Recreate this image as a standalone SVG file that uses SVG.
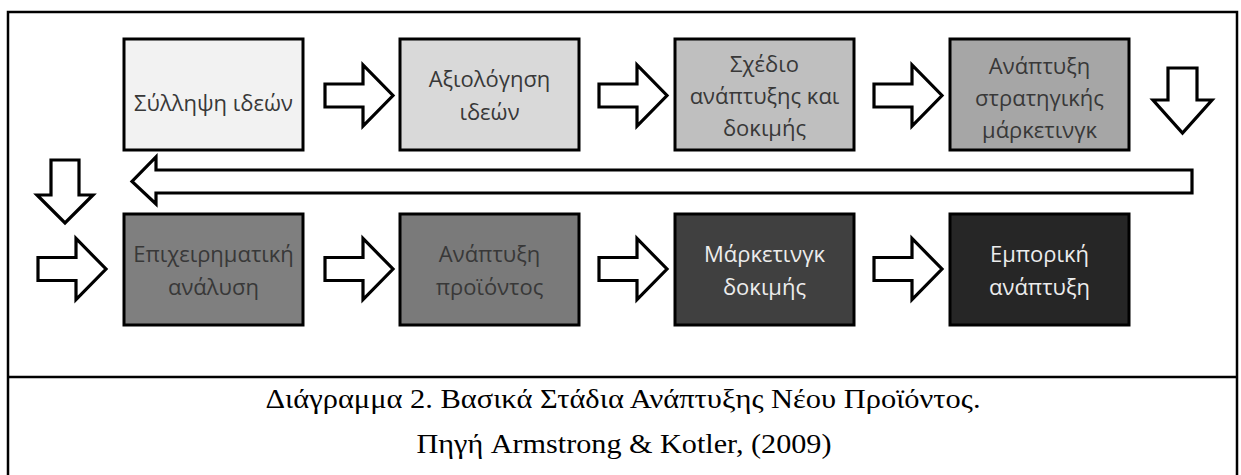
<svg xmlns="http://www.w3.org/2000/svg" width="1241" height="475" viewBox="0 0 1241 475">
  <defs>
    <style>
      .stage { stroke: #000; stroke-width: 3; }
      .label { font-family: "Open Sans", "Liberation Sans", sans-serif; font-size: 22px; text-anchor: middle; }
      .dark { fill: #383838; }
      .light { fill: #ececec; }
      .flow { fill: #fff; stroke: #000; stroke-width: 3.2; stroke-linejoin: miter; }
      .frame { fill: none; stroke: #000; stroke-width: 2.5; }
      .caption { font-family: "Liberation Serif", "DejaVu Serif", serif; font-size: 27px; fill: #000; text-anchor: middle; }
    </style>
    <!-- block arrow pointing right, origin at the shaft's left-middle -->
    <path id="arrow-right" d="M0,-11.5 H38 V-30.5 L68,0 L38,30.5 V11.5 H0 Z"/>
  </defs>

  <!-- outer frame and caption divider -->
  <path class="frame" d="M8,476 V12 H1237 V476"/>
  <line class="frame" x1="8" y1="377" x2="1237" y2="377"/>

  <!-- top row -->
  <g id="stage-idea-generation">
    <rect class="stage" x="124" y="39" width="179" height="111" fill="#f2f2f2"/>
    <text class="label dark" x="213.5" y="111">Σύλληψη ιδεών</text>
  </g>
  <g id="stage-idea-screening">
    <rect class="stage" x="400" y="39" width="179" height="111" fill="#d9d9d9"/>
    <text class="label dark" x="489.5" y="87">Αξιολόγηση</text>
    <text class="label dark" x="489.5" y="120">ιδεών</text>
  </g>
  <g id="stage-concept-testing">
    <rect class="stage" x="675" y="39" width="179" height="111" fill="#bfbfbf"/>
    <text class="label dark" x="764.5" y="72">Σχέδιο</text>
    <text class="label dark" x="764.5" y="104">ανάπτυξης και</text>
    <text class="label dark" x="764.5" y="136">δοκιμής</text>
  </g>
  <g id="stage-marketing-strategy">
    <rect class="stage" x="950" y="39" width="179" height="111" fill="#a6a6a6"/>
    <text class="label dark" x="1039.5" y="74">Ανάπτυξη</text>
    <text class="label dark" x="1039.5" y="106">στρατηγικής</text>
    <text class="label dark" x="1039.5" y="138">μάρκετινγκ</text>
  </g>

  <!-- bottom row -->
  <g id="stage-business-analysis">
    <rect class="stage" x="124" y="214" width="179" height="111" fill="#7f7f7f"/>
    <text class="label dark" x="213.5" y="262">Επιχειρηματική</text>
    <text class="label dark" x="213.5" y="295">ανάλυση</text>
  </g>
  <g id="stage-product-development">
    <rect class="stage" x="400" y="214" width="179" height="111" fill="#7a7a7a"/>
    <text class="label dark" x="489.5" y="262">Ανάπτυξη</text>
    <text class="label dark" x="489.5" y="295">προϊόντος</text>
  </g>
  <g id="stage-test-marketing">
    <rect class="stage" x="675" y="214" width="179" height="111" fill="#404040"/>
    <text class="label light" x="764.5" y="262">Μάρκετινγκ</text>
    <text class="label light" x="764.5" y="295">δοκιμής</text>
  </g>
  <g id="stage-commercialization">
    <rect class="stage" x="950" y="214" width="179" height="111" fill="#262626"/>
    <text class="label light" x="1039.5" y="262">Εμπορική</text>
    <text class="label light" x="1039.5" y="295">ανάπτυξη</text>
  </g>

  <!-- connectors -->
  <g id="connectors">
    <use href="#arrow-right" class="flow" x="325" y="95.5"/>
    <use href="#arrow-right" class="flow" x="599" y="95.5"/>
    <use href="#arrow-right" class="flow" x="874" y="95.5"/>
    <!-- down from the last top stage -->
    <path class="flow" d="M1168,68 H1197 V100 H1212 L1182.5,133 L1153,100 H1168 Z"/>
    <!-- long return arrow -->
    <path class="flow" d="M1192,170 V193 H156 V204 L132,181.5 L156,157 V170 Z"/>
    <!-- down on the left -->
    <path class="flow" d="M51,160 H79 V195 H93 L65,223 L37,195 H51 Z"/>
    <use href="#arrow-right" class="flow" x="38" y="269"/>
    <use href="#arrow-right" class="flow" x="325" y="269"/>
    <use href="#arrow-right" class="flow" x="599" y="269"/>
    <use href="#arrow-right" class="flow" x="874" y="269"/>
  </g>

  <!-- caption -->
  <g id="caption">
    <text class="caption" x="623" y="408" textLength="715" lengthAdjust="spacingAndGlyphs">Διάγραμμα 2. Βασικά Στάδια Ανάπτυξης Νέου Προϊόντος.</text>
    <text class="caption" x="624" y="453" textLength="415" lengthAdjust="spacingAndGlyphs">Πηγή Armstrong &amp; Kotler, (2009)</text>
  </g>
</svg>
